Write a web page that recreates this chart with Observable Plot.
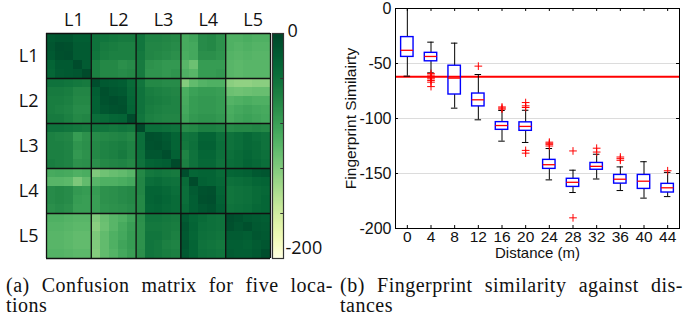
<!DOCTYPE html>
<html><head><meta charset="utf-8">
<script src="https://cdn.jsdelivr.net/npm/d3@7"></script>
<script src="https://cdn.jsdelivr.net/npm/@observablehq/plot@0.6"></script>
<style>
html,body{margin:0;padding:0;background:#fff;overflow:hidden;}
#wrap{position:relative;width:691px;height:320px;background:#fff;}
.panel{position:absolute;top:0;}
.cap{position:absolute;font-family:"Liberation Serif","Times New Roman",serif;font-size:20px;line-height:20px;color:#111;letter-spacing:0.5px;}
.just{text-align:justify;text-align-last:justify;}
</style>
</head><body>
<div id="wrap">
  <div class="panel" id="heat" style="left:0px"></div>
  <div class="panel" id="cbar" style="left:266px"></div>
  <div class="panel" id="box" style="left:330px"></div>
  <div class="cap just" style="left:6px;top:275px;width:327px">(a) Confusion matrix for five loca-</div>
  <div class="cap" style="left:6px;top:295px">tions</div>
  <div class="cap just" style="left:340px;top:275px;width:343px">(b) Fingerprint similarity against dis-</div>
  <div class="cap" style="left:340px;top:295px">tances</div>
</div>
<script>
// ---------- data: panel (a) ----------
const locations = ["L1", "L2", "L3", "L4", "L5"];
const similarity = [
  [-18,-15,-15,-22,-22, -42,-45,-48,-50,-50, -45,-58,-58,-60,-62, -90,-85,-65,-62,-70, -95,-95,-92,-95,-95],
  [-15,-8,-10,-20,-20, -42,-50,-52,-55,-55, -45,-60,-60,-62,-65, -90,-88,-65,-62,-70, -95,-98,-95,-98,-98],
  [-18,-10,-8,-20,-20, -45,-52,-55,-55,-55, -48,-60,-62,-65,-68, -92,-88,-68,-68,-72, -98,-100,-98,-100,-100],
  [-28,-18,-18,-6,-20, -55,-62,-62,-68,-65, -50,-70,-72,-75,-75, -100,-110,-78,-78,-78, -100,-102,-100,-100,-100],
  [-30,-20,-18,-15,-5, -55,-62,-62,-65,-62, -50,-72,-72,-75,-72, -95,-100,-78,-78,-75, -100,-102,-100,-100,-100],
  [-42,-42,-45,-48,-50, -8,-18,-20,-22,-35, -45,-62,-62,-65,-65, -122,-105,-98,-95,-95, -125,-128,-128,-125,-125],
  [-50,-50,-52,-60,-60, -22,-10,-15,-18,-32, -42,-52,-55,-58,-60, -92,-82,-78,-78,-80, -110,-112,-110,-108,-108],
  [-52,-52,-55,-62,-62, -25,-12,-8,-12,-30, -42,-50,-52,-55,-58, -90,-78,-75,-75,-78, -98,-95,-92,-95,-95],
  [-52,-55,-58,-65,-65, -25,-15,-12,-10,-28, -42,-52,-55,-58,-58, -88,-78,-75,-75,-78, -92,-88,-85,-88,-90],
  [-50,-50,-55,-62,-60, -38,-35,-30,-28,-6, -45,-55,-58,-60,-60, -85,-75,-72,-72,-75, -90,-85,-82,-85,-88],
  [-42,-42,-45,-48,-50, -45,-45,-48,-45,-48, -3,-38,-38,-40,-42, -65,-62,-55,-55,-58, -65,-62,-62,-60,-62],
  [-55,-58,-60,-78,-70, -65,-62,-60,-58,-62, -38,-10,-12,-18,-28, -45,-42,-28,-28,-40, -42,-38,-32,-38,-42],
  [-55,-55,-58,-72,-68, -62,-58,-55,-52,-58, -38,-12,-10,-15,-28, -48,-40,-25,-25,-38, -42,-38,-32,-35,-42],
  [-55,-55,-58,-75,-70, -62,-58,-55,-50,-58, -40,-15,-15,-8,-25, -58,-42,-30,-30,-40, -40,-35,-30,-35,-40],
  [-52,-55,-58,-70,-68, -68,-62,-60,-58,-62, -42,-28,-25,-22,-5, -55,-42,-32,-32,-42, -38,-35,-28,-32,-38],
  [-90,-88,-90,-95,-92, -120,-112,-108,-105,-100, -62,-48,-45,-48,-50, -8,-30,-28,-28,-35, -30,-28,-25,-18,-15],
  [-100,-100,-102,-118,-105, -100,-95,-95,-92,-88, -60,-38,-35,-40,-42, -35,-5,-25,-28,-32, -40,-38,-35,-30,-28],
  [-65,-62,-65,-75,-78, -78,-70,-68,-65,-62, -60,-28,-28,-32,-38, -38,-20,-12,-10,-28, -45,-42,-40,-35,-32],
  [-65,-62,-65,-78,-80, -80,-70,-68,-65,-62, -62,-28,-25,-30,-35, -38,-22,-10,-8,-25, -45,-42,-40,-35,-30],
  [-68,-65,-68,-80,-80, -80,-72,-70,-68,-65, -62,-30,-28,-32,-35, -35,-22,-15,-12,-22, -42,-40,-38,-32,-30],
  [-95,-95,-98,-100,-100, -120,-108,-100,-95,-85, -68,-45,-45,-48,-50, -20,-30,-35,-40,-42, -8,-12,-18,-20,-22],
  [-98,-98,-100,-102,-102, -125,-110,-100,-90,-80, -70,-48,-48,-50,-52, -15,-28,-38,-40,-42, -10,-15,-10,-18,-20],
  [-100,-100,-102,-105,-105, -118,-105,-95,-88,-78, -70,-45,-45,-50,-55, -18,-30,-40,-42,-45, -20,-20,-22,-15,-18],
  [-100,-100,-102,-105,-105, -120,-105,-95,-85,-78, -70,-45,-48,-55,-58, -15,-28,-42,-45,-48, -22,-22,-25,-20,-15],
  [-98,-98,-100,-102,-102, -122,-105,-98,-88,-80, -68,-45,-48,-52,-55, -18,-28,-40,-42,-45, -20,-22,-22,-18,-8]
];
const cellsPerLocation = 5;
const colorDomain = [-200, 0];
const colorbarTicks = [-40, -80, -120, -160];
const colorbarLabels = [0, -200];

// ---------- data: panel (b) ----------
const distances   = [0, 4, 8, 12, 16, 20, 24, 28, 32, 36, 40, 44];
const whiskerLow  = [-61.5, -58.5, -90.6, -101.2, -120.6, -121.8, -155.8, -167.3, -155, -165.5, -172.4, -171];
const quartile1   = [-44, -48, -78.2, -89, -110.3, -111.2, -145.8, -162.2, -146.6, -159.2, -164, -167.3];
const medians     = [-38, -43.6, -63.3, -83, -106.4, -107.2, -142, -158, -143.5, -155.2, -157, -163];
const quartile3   = [-26, -40.3, -52, -77.3, -103.3, -103.5, -137.6, -154.8, -140.4, -151.3, -151.3, -159.4];
const whiskerHigh = [0, -30.6, -31.5, -60, -92.7, -92.5, -127.3, -147, -132.5, -144, -139.3, -149];
const outlierDistance = [4, 4, 4, 4, 4, 4, 4, 4, 12, 16, 16, 16, 20, 20, 20, 20, 20, 24, 24, 24, 24, 28, 28, 32, 32, 36, 36, 36, 44];
const outlierValue    = [-59, -60.5, -62, -63, -64, -65.5, -67, -71, -52.4, -89.5, -90.5, -91.5, -85.5, -88.5, -90, -129, -131.5, -121.5, -122.5, -123.5, -125, -129.5, -190.3, -127, -130.5, -135, -136.5, -138, -147.5];
const threshold = -62;
const yTicks = [0, -50, -100, -150, -200];
const gridValues = [-50, -100, -150];
const yLabel = "Fingerprint Similairty";
const xLabel = "Distance (m)";

const fmt = d => String(d);
// colormap: yellow-green, slightly darker through the middle like the reference colour bar
const colorScale = {type: "linear", domain: colorDomain, interpolate: t => d3.interpolateYlGn(Math.pow(t, 0.8))};

// ---------- panel (a): heatmap ----------
const n = similarity.length;
const cells = [];
similarity.forEach((row, i) => row.forEach((v, j) => cells.push({i, j, v})));
const blockEdges = d3.range(0, n + 1, cellsPerLocation);
const blockCenters = locations.map((_, k) => k * cellsPerLocation + cellsPerLocation / 2);
const locName = d => locations[Math.floor(d / cellsPerLocation)];

const heat = Plot.plot({
  width: 272, height: 262,
  marginLeft: 46, marginRight: 2, marginTop: 33, marginBottom: 4,
  style: {fontFamily: "'Open Sans', 'DejaVu Sans', sans-serif", fontSize: "18px", background: "transparent", overflow: "visible", color: "#111"},
  x: {domain: [0, n]},
  y: {domain: [0, n], reverse: true},
  color: colorScale,
  marks: [
    Plot.rect(cells, {x1: "j", x2: d => d.j + 1, y1: "i", y2: d => d.i + 1, fill: "v", shapeRendering: "crispEdges"}),
    Plot.ruleX(blockEdges, {stroke: "#111", strokeWidth: 1.3}),
    Plot.ruleY(blockEdges, {stroke: "#111", strokeWidth: 1.3}),
    Plot.axisX(blockCenters, {anchor: "top", tickSize: 0, tickPadding: 8, dx: 5, tickFormat: locName, fontSize: 18, label: null}),
    Plot.axisY(blockCenters, {anchor: "left", tickSize: 0, tickPadding: 8, tickFormat: locName, fontSize: 18, label: null})
  ]
});
document.getElementById("heat").appendChild(heat);

// ---------- colorbar ----------
const ramp = d3.range(colorDomain[0], colorDomain[1], 1);
const cbar = Plot.plot({
  width: 60, height: 262,
  marginLeft: 6, marginRight: 43, marginTop: 33, marginBottom: 4,
  style: {fontFamily: "'Open Sans', 'DejaVu Sans', sans-serif", fontSize: "18px", background: "transparent", overflow: "visible", color: "#111"},
  x: {domain: [0, 1], axis: null},
  y: {domain: colorDomain, axis: null},
  color: colorScale,
  marks: [
    Plot.rect(ramp, {x1: 0, x2: 1, y1: d => d, y2: d => d + 1, fill: d => d, shapeRendering: "crispEdges"}),
    Plot.ruleY(colorbarTicks, {x1: 0.75, x2: 1, stroke: "#333", strokeWidth: 1}),
    Plot.frame({stroke: "#333", strokeWidth: 1.2}),
    Plot.text([colorbarLabels[0]], {x: 1, y: d => d, text: fmt, textAnchor: "start", dx: 4, dy: -2, fontSize: 18}),
    Plot.text([colorbarLabels[1]], {x: 1, y: d => d, text: fmt, textAnchor: "start", dx: 2, dy: -10, fontSize: 18})
  ]
});
document.getElementById("cbar").appendChild(cbar);

// ---------- panel (b): box plots ----------
const boxes = distances.map((d, k) => ({d, lo: whiskerLow[k], q1: quartile1[k], med: medians[k], q3: quartile3[k], hi: whiskerHigh[k]}));
const outliers = outlierDistance.map((d, k) => ({d, v: outlierValue[k]}));
const halfBox = 1.05, halfCap = 0.55;

const bp = Plot.plot({
  width: 361, height: 262,
  marginLeft: 65, marginRight: 12, marginTop: 8, marginBottom: 34,
  style: {fontFamily: "'Liberation Sans', Arial, sans-serif", fontSize: "16px", background: "transparent", overflow: "visible", color: "#111"},
  x: {domain: [-2, 46]},
  y: {domain: [-200, 0]},
  marks: [
    Plot.ruleY(gridValues, {stroke: "#dcdcdc", strokeWidth: 1}),
    Plot.ruleY([threshold], {stroke: "#ff0000", strokeWidth: 2}),
    Plot.ruleX(boxes, {x: "d", y1: "q3", y2: "hi", stroke: "#000", strokeWidth: 1}),
    Plot.ruleX(boxes, {x: "d", y1: "lo", y2: "q1", stroke: "#000", strokeWidth: 1}),
    Plot.ruleY(boxes, {y: "hi", x1: b => b.d - halfCap, x2: b => b.d + halfCap, stroke: "#000", strokeWidth: 1}),
    Plot.ruleY(boxes, {y: "lo", x1: b => b.d - halfCap, x2: b => b.d + halfCap, stroke: "#000", strokeWidth: 1}),
    Plot.rect(boxes, {x1: b => b.d - halfBox, x2: b => b.d + halfBox, y1: "q1", y2: "q3", fill: "none", stroke: "#0000ff", strokeWidth: 1.4}),
    Plot.ruleY(boxes, {y: "med", x1: b => b.d - halfBox, x2: b => b.d + halfBox, stroke: "#ff0000", strokeWidth: 1.3}),
    Plot.dot(outliers, {x: "d", y: "v", symbol: "plus", r: 2.6, stroke: "#ff0000", strokeWidth: 1}),
    Plot.frame({stroke: "#000", strokeWidth: 1}),
    Plot.ruleX(distances, {y1: -200, y2: -197.3, stroke: "#000"}),
    Plot.ruleX(distances, {y1: 0, y2: -2.7, stroke: "#000"}),
    Plot.ruleY(yTicks, {x1: -2, x2: -1.5, stroke: "#000"}),
    Plot.ruleY(yTicks, {x1: 46, x2: 45.5, stroke: "#000"}),
    Plot.axisX(distances, {tickSize: 0, tickPadding: 2, tickFormat: fmt, fontSize: 15.5, label: null}),
    Plot.axisY(yTicks, {tickSize: 0, tickPadding: 4, tickFormat: fmt, fontSize: 16, label: null}),
    Plot.text([yLabel], {text: d => d, frameAnchor: "left", textAnchor: "middle", rotate: -90, dx: -44, fontSize: 15.5}),
    Plot.text([xLabel], {text: d => d, frameAnchor: "bottom", textAnchor: "middle", dy: 29, fontSize: 15})
  ]
});
document.getElementById("box").appendChild(bp);
</script>
</body></html>
